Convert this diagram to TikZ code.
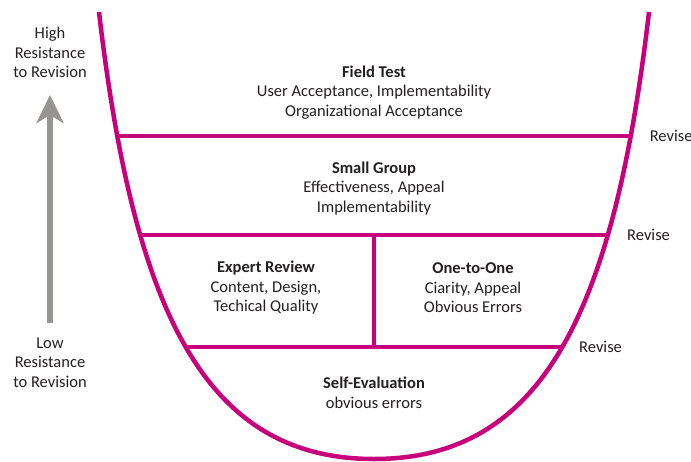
\documentclass[tikz,border=0pt]{standalone}
\usepackage{fontspec}
\setmainfont{Carlito}
\usepackage{xcolor}
\usetikzlibrary{positioning, arrows.meta}

\definecolor{cupmagenta}{RGB}{200,0,124}
\definecolor{cupgray}{RGB}{152,148,145}
\definecolor{cuptext}{RGB}{35,31,32}

\begin{document}
\begin{tikzpicture}[x=1pt, y=-1pt,
        cup/.style={
                draw=cupmagenta,
                line width=4.5pt,
        },
        band/.style={
                draw=cupmagenta,
                line width=4pt,
        },
        phase/.style={
                align=center,
                inner sep=0pt,
                text=cuptext,
                font=\fontsize{16.5}{19.5}\selectfont,
        },
        revise/.style={
                inner sep=0pt,
                text=cuptext,
                font=\fontsize{16.5}{19.5}\selectfont,
        },
        resist/.style={
                draw=cupgray,
                line width=5.5pt,
                -{Stealth[length=28pt, width=27pt, inset=8pt]},
        }]
            \useasboundingbox (0,0) rectangle (691,461);

            % bands of the cup
            \draw[band] (117.4,136) -- (630.6,136) coordinate (fieldend);
            \draw[band] (140,235) -- (608,235) coordinate (groupend);
            \draw[band] (186,347) -- (562,347) coordinate (selfend);
            \draw[band] (373.5,235) -- (373.5,347);

            % the cup
            \draw[cup] (99,12) .. controls (134,312) and (205,459) .. (374,459)
                       .. controls (543,459) and (614,312) .. (649,12);

            \node[phase] (field) at (374,92.5) {\textbf{Field Test}\\User Acceptance, Implementability\\Organizational Acceptance};
            \node[phase] (small) at (374,188.5) {\textbf{Small Group}\\Effectiveness, Appeal\\Implementability};
            \node[phase] (expert) at (266,288) {\textbf{Expert Review}\\Content, Design,\\Techical Quality};
            \node[phase] (onetoone) at (473,288) {\textbf{One-to-One}\\Ciarity, Appeal\\Obvious Errors};
            \node[phase] (self) at (374,393) {\textbf{Self-Evaluation}\\obvious errors};

            \node[revise, right=19pt of fieldend] (revise1) {Revise};
            \node[revise, right=19pt of groupend] (revise2) {Revise};
            \node[revise, right=17pt of selfend] (revise3) {Revise};

            % resistance scale
            \node[phase] (high) at (50,52.5) {High\\Resistance\\to Revision};
            \node[phase] (low) at (50,362.5) {Low\\Resistance\\to Revision};
            \coordinate (lowend) at (50,323);
            \coordinate (highend) at (50,95);
            \draw[resist] (lowend) -- (highend);
        \end{tikzpicture}
\end{document}
